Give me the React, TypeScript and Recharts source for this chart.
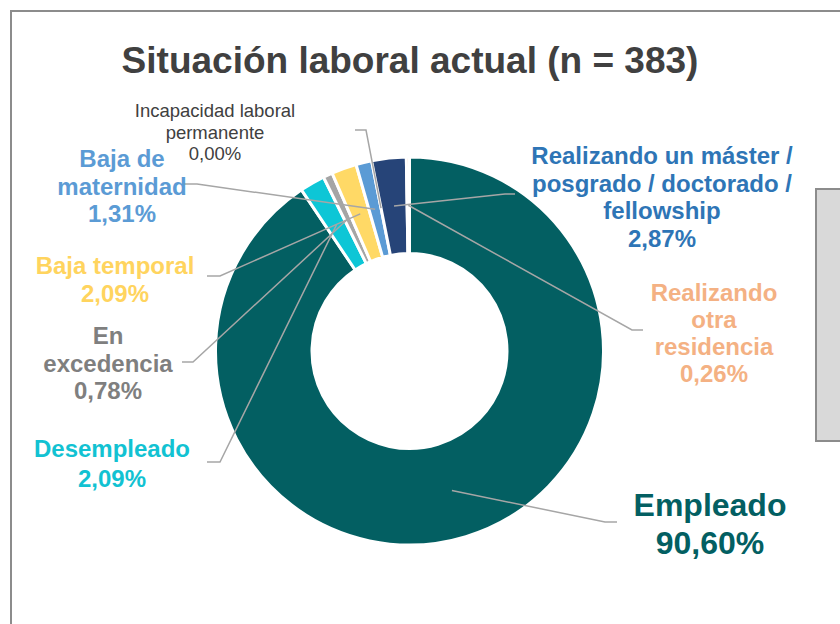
import React from "react";
import { PieChart, Pie, Cell } from "recharts";

const categories = [
  "Empleado",
  "Desempleado",
  "En excedencia",
  "Baja temporal",
  "Baja de maternidad",
  "Incapacidad laboral permanente",
  "Realizando un máster / posgrado / doctorado / fellowship",
  "Realizando otra residencia",
];
const values = [90.6, 2.09, 0.78, 2.09, 1.31, 0.0, 2.87, 0.26];
const valueLabels = ["90,60%", "2,09%", "0,78%", "2,09%", "1,31%", "0,00%", "2,87%", "0,26%"];
const labelLines = [
  ["Empleado"],
  ["Desempleado"],
  ["En", "excedencia"],
  ["Baja temporal"],
  ["Baja de", "maternidad"],
  ["Incapacidad laboral", "permanente"],
  ["Realizando un máster /", "posgrado / doctorado /", "fellowship"],
  ["Realizando", "otra", "residencia"],
];
const sliceColors = ["#035F62", "#0DC6D6", "#A5A5A5", "#FFD966", "#5B9BD5", "#7F7F7F", "#264478", "#F4B183"];
const textColors = ["#035F62", "#12C2D2", "#7F7F7F", "#FFD45E", "#5B9BD5", "#404040", "#2E75B6", "#F4B183"];

const data = categories.map((name, i) => ({ name, value: values[i] }));

// label layout: text center x, first line center y, line height, font size, bold, elbow pts
const layout = [
  { x: 710, y: 505, lh: 38, fs: 32, bold: true, elbow: [605, 522], end: [617, 522] },
  { x: 112, y: 448, lh: 30, fs: 24, bold: true, elbow: [220, 462], end: [207, 462] },
  { x: 108, y: 335, lh: 27.5, fs: 24, bold: true, elbow: [193, 362], end: [182, 362] },
  { x: 115, y: 265, lh: 27.5, fs: 24, bold: true, elbow: [220, 276], end: [207, 276] },
  { x: 122, y: 158, lh: 27.5, fs: 24, bold: true, elbow: [197, 184], end: [183, 184] },
  { x: 215, y: 110, lh: 21.5, fs: 18.5, bold: false, elbow: [366, 130], end: [355, 130] },
  { x: 662, y: 155, lh: 27.5, fs: 24, bold: true, elbow: [505, 194], end: [515, 194] },
  { x: 714, y: 292, lh: 27, fs: 24, bold: true, elbow: [632, 330], end: [643, 330] },
];

const RAD = Math.PI / 180;

const renderLabel = (props: any) => {
  const { cx, cy, midAngle, innerRadius, outerRadius, index } = props;
  const L = layout[index];
  if (!L) return null;
  const r = (innerRadius + outerRadius) / 2;
  const sx = cx + r * Math.cos(-midAngle * RAD);
  const sy = cy + r * Math.sin(-midAngle * RAD);
  const lines = [...labelLines[index], valueLabels[index]];
  return (
    <g key={`lbl-${index}`}>
      <polyline
        points={`${sx},${sy} ${L.elbow[0]},${L.elbow[1]} ${L.end[0]},${L.end[1]}`}
        fill="none"
        stroke="#A6A6A6"
        strokeWidth={1.5}
      />
      <text
        x={L.x}
        y={L.y}
        textAnchor="middle"
        dominantBaseline="central"
        fill={textColors[index]}
        fontSize={L.fs}
        fontWeight={L.bold ? 700 : 400}
        fontFamily="'Liberation Sans', Arial, sans-serif"
      >
        {lines.map((t, k) => (
          <tspan key={k} x={L.x} y={L.y + k * L.lh}>
            {t}
          </tspan>
        ))}
      </text>
    </g>
  );
};

export default function App() {
  return (
    <div style={{ position: "absolute", left: 0, top: 0, width: 840, height: 624, background: "#fff", overflow: "hidden", fontFamily: "'Liberation Sans', Arial, sans-serif" }}>
      <div style={{ position: "absolute", left: 10, top: 10, width: 900, height: 700, border: "2px solid #8C8C8C" }} />
      <div style={{ position: "absolute", left: 815, top: 188, width: 60, height: 250, border: "2px solid #8C8C8C", background: "#D9D9D9" }} />
      <div style={{ position: "absolute", left: 0, top: 0, width: 840 }}>
        <PieChart width={840} height={624} margin={{ top: 0, right: 0, bottom: 0, left: 0 }}>
          <text x={410} y={60} textAnchor="middle" dominantBaseline="central" fill="#404040" fontSize={37} fontWeight={700} fontFamily="'Liberation Sans', Arial, sans-serif">
            Situación laboral actual (n = 383)
          </text>
          <Pie
            data={data}
            dataKey="value"
            nameKey="name"
            cx={409.5}
            cy={351}
            innerRadius={97.5}
            outerRadius={194}
            startAngle={90}
            endAngle={-270}
            stroke="#FFFFFF"
            strokeWidth={3}
            labelLine={false}
            label={renderLabel}
            isAnimationActive={false}
          >
            {data.map((d, i) => (
              <Cell key={d.name} fill={sliceColors[i]} />
            ))}
          </Pie>
        </PieChart>
      </div>
    </div>
  );
}
